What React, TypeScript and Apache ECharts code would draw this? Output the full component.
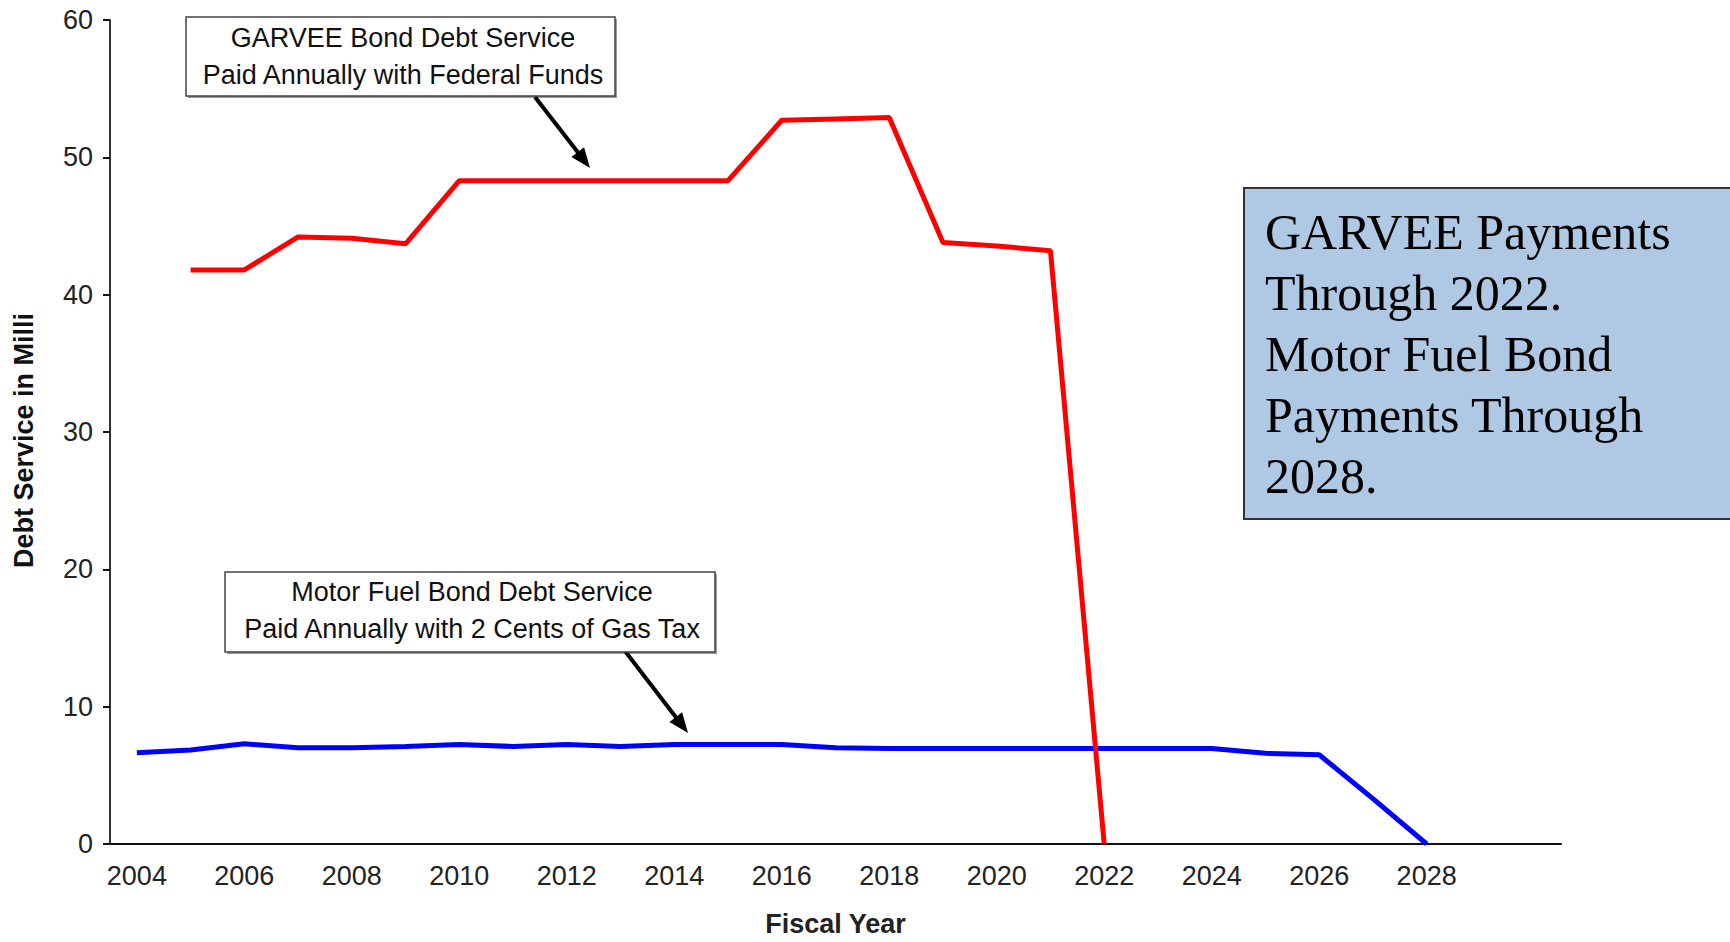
import React, { useEffect, useRef } from "react";
import * as echarts from "echarts";

// Fiscal years on the category axis
const years: string[] = [
  "2004", "2005", "2006", "2007", "2008", "2009", "2010", "2011", "2012",
  "2013", "2014", "2015", "2016", "2017", "2018", "2019", "2020", "2021",
  "2022", "2023", "2024", "2025", "2026", "2027", "2028", "2029", "2030",
];

// GARVEE bond debt service ($ millions), 2005–2022
const garvee: (number | null)[] = [
  null, 41.8, 41.8, 44.2, 44.1, 43.7, 48.3, 48.3, 48.3, 48.3, 48.3, 48.3,
  52.7, 52.8, 52.9, 43.8, 43.55, 43.2, 0, null, null, null, null, null,
  null, null, null,
];

// Motor fuel bond debt service ($ millions), 2004–2028
const motorFuel: (number | null)[] = [
  6.65, 6.85, 7.3, 7.0, 7.0, 7.1, 7.25, 7.1, 7.25, 7.1, 7.25, 7.25, 7.25,
  7.0, 6.95, 6.95, 6.95, 6.95, 6.95, 6.95, 6.95, 6.6, 6.5, 3.3, 0, null,
  null,
];

const lastLabelledYear = "2028";

const SANS = "'Liberation Sans', Arial, sans-serif";
const SERIF = "'Liberation Serif', 'Times New Roman', serif";

function arrow(x1: number, y1: number, x2: number, y2: number) {
  const len = Math.hypot(x2 - x1, y2 - y1);
  const ux = (x2 - x1) / len;
  const uy = (y2 - y1) / len;
  const head = 20;
  const half = 8;
  const bx = x2 - ux * head;
  const by = y2 - uy * head;
  return [
    {
      type: "line",
      shape: { x1, y1, x2: bx + ux * 2, y2: by + uy * 2 },
      style: { stroke: "#000", lineWidth: 4 },
      z: 10,
    },
    {
      type: "polygon",
      shape: {
        points: [
          [x2, y2],
          [bx - uy * half, by + ux * half],
          [bx + uy * half, by - ux * half],
        ],
      },
      style: { fill: "#000" },
      z: 10,
    },
  ];
}

function calloutBox(
  x: number,
  y: number,
  w: number,
  h: number,
  cx: number,
  top: number,
  text: string
) {
  return [
    {
      type: "rect",
      shape: { x: x + 2, y: y + 2, width: w, height: h },
      style: { fill: "#9a9a9a" },
      z: 10,
    },
    {
      type: "rect",
      shape: { x, y, width: w, height: h },
      style: { fill: "#fff", stroke: "#444", lineWidth: 1.5 },
      z: 11,
    },
    {
      type: "text",
      x: cx,
      y: top,
      style: {
        text,
        font: `27px ${SANS}`,
        fill: "#111",
        align: "center",
        verticalAlign: "top",
        lineHeight: 36.5,
      },
      z: 12,
    },
  ];
}

export default function App() {
  const ref = useRef<HTMLDivElement>(null);

  useEffect(() => {
    document.body.style.margin = "0";
    if (!ref.current) return;
    const chart = echarts.init(ref.current, null, { renderer: "svg" });

    chart.setOption({
      animation: false,
      backgroundColor: "#fff",
      grid: { left: 110, right: 169, top: 20, bottom: 95 },
      xAxis: {
        type: "category",
        data: years,
        boundaryGap: true,
        name: "Fiscal Year",
        nameLocation: "middle",
        nameGap: 66,
        nameTextStyle: {
          fontFamily: SANS,
          fontSize: 27,
          fontWeight: "bold",
          color: "#222",
        },
        axisLine: { lineStyle: { color: "#111", width: 2 } },
        axisTick: { show: false },
        axisLabel: {
          interval: (idx: number, val: string) =>
            idx % 2 === 0 && Number(val) <= Number(lastLabelledYear),
          margin: 18,
          fontFamily: SANS,
          fontSize: 27,
          color: "#222",
        },
        splitLine: { show: false },
      },
      yAxis: {
        type: "value",
        min: 0,
        max: 60,
        interval: 10,
        axisLine: { show: true, lineStyle: { color: "#333", width: 2 } },
        axisTick: {
          show: true,
          inside: false,
          length: 7,
          lineStyle: { color: "#111", width: 2 },
        },
        axisLabel: {
          margin: 17,
          fontFamily: SANS,
          fontSize: 27,
          color: "#222",
        },
        splitLine: { show: false },
      },
      series: [
        {
          name: "GARVEE Bond Debt Service",
          type: "line",
          data: garvee,
          symbol: "none",
          connectNulls: false,
          lineStyle: { color: "#ff0000", width: 5 },
          itemStyle: { color: "#ff0000" },
          z: 3,
        },
        {
          name: "Motor Fuel Bond Debt Service",
          type: "line",
          data: motorFuel,
          symbol: "none",
          connectNulls: false,
          lineStyle: { color: "#0000ff", width: 5 },
          itemStyle: { color: "#0000ff" },
          z: 2,
        },
      ],
      graphic: [
        {
          type: "text",
          x: 24,
          y: 568,
          rotation: Math.PI / 2,
          style: {
            text: "Debt Service in Millions",
            font: `bold 27px ${SANS}`,
            fill: "#111",
            align: "left",
            verticalAlign: "middle",
            width: 268,
            overflow: "truncate",
            ellipsis: "",
          },
        },
        ...calloutBox(
          186,
          17,
          429,
          79,
          403,
          20,
          "GARVEE Bond Debt Service\nPaid Annually with Federal Funds"
        ),
        ...arrow(535, 97, 590, 168),
        ...calloutBox(
          225,
          572,
          490,
          80,
          472,
          574,
          "Motor Fuel Bond Debt Service\nPaid Annually with 2 Cents of Gas Tax"
        ),
        ...arrow(625, 651, 688, 733),
        {
          type: "rect",
          shape: { x: 1244, y: 188, width: 520, height: 331 },
          style: { fill: "#AFC9E4", stroke: "#333", lineWidth: 2 },
          z: 10,
        },
        {
          type: "text",
          x: 1265,
          y: 201,
          style: {
            text:
              "GARVEE Payments\nThrough 2022.\nMotor Fuel Bond\nPayments Through\n2028.",
            font: `50px ${SERIF}`,
            fill: "#000",
            align: "left",
            verticalAlign: "top",
            lineHeight: 61,
          },
          z: 11,
        },
      ],
    });

    return () => chart.dispose();
  }, []);

  return <div ref={ref} style={{ width: 1730, height: 942 }} />;
}
